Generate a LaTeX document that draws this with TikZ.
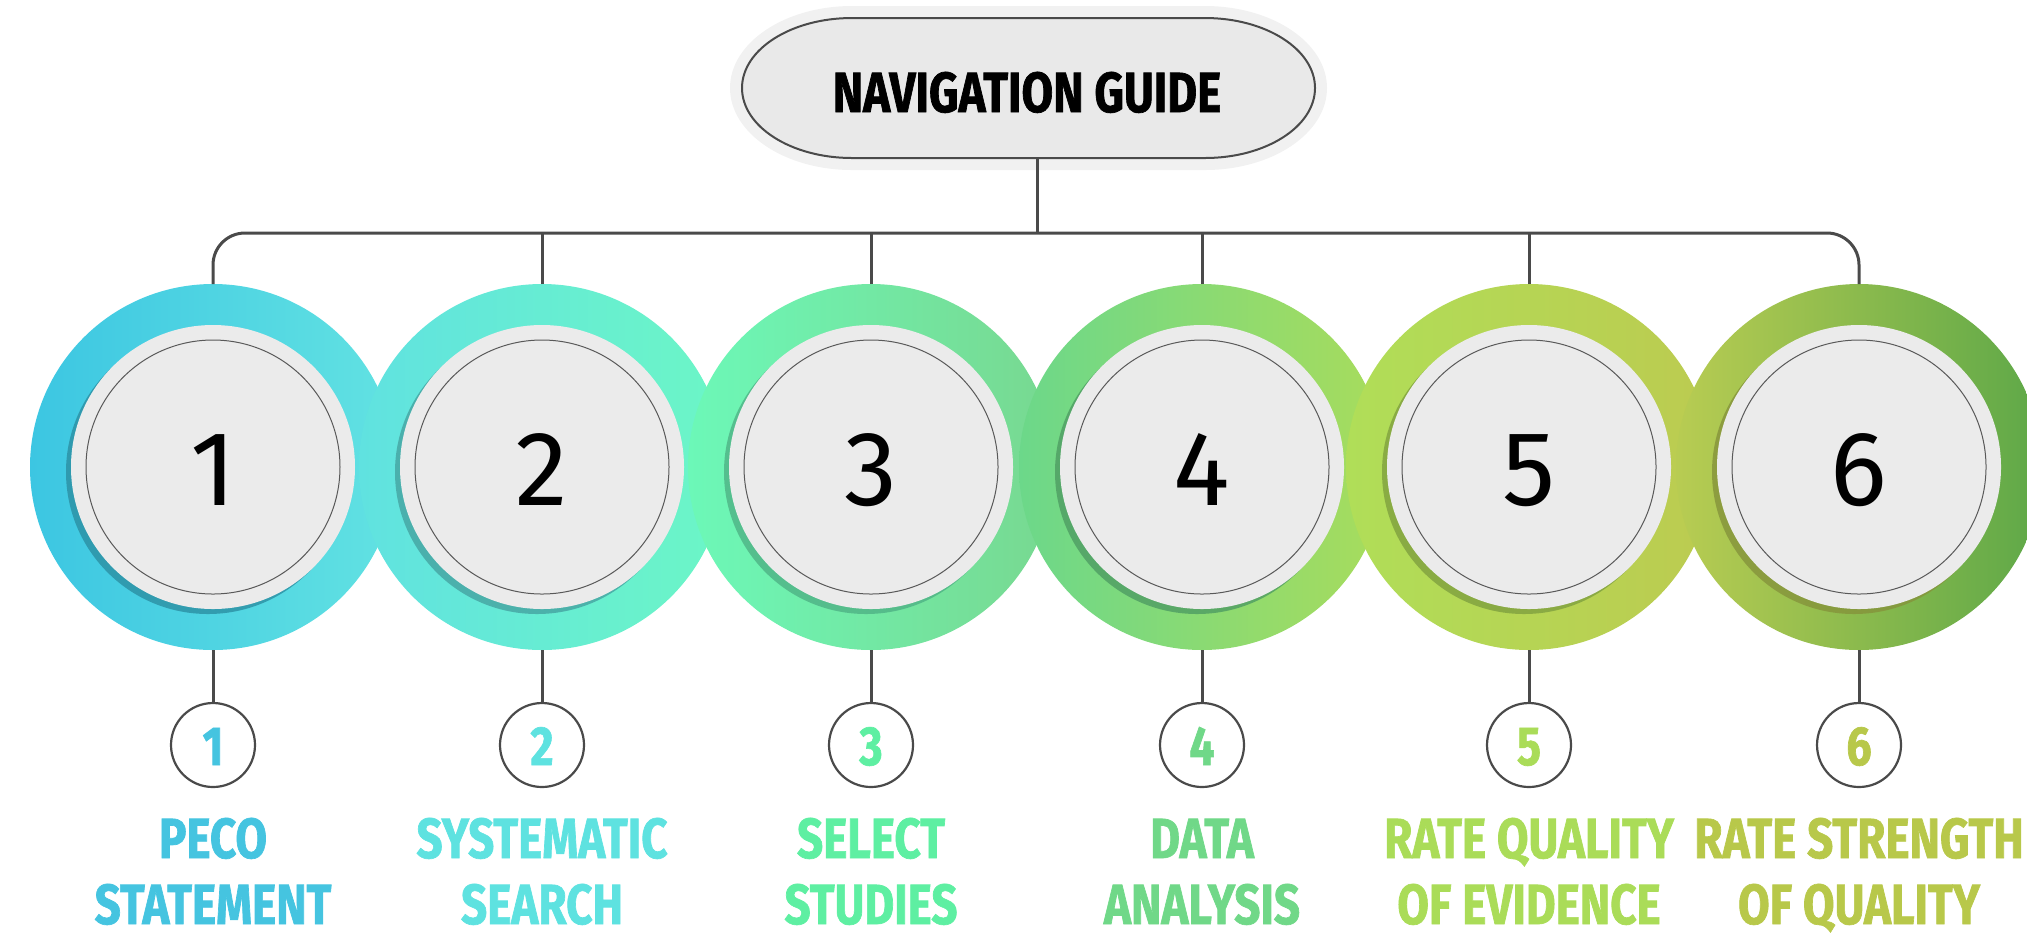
\documentclass[tikz,border=0pt]{standalone}
\usepackage{fontspec}
\setmainfont{Fira Sans}
\newfontfamily\numfont{Fira Sans}
\newfontfamily\condfont[FakeStretch=0.81,FakeBold=1.2]{Fira Sans}
\definecolor{linegray}{HTML}{4A4A4A}
\definecolor{discgray}{HTML}{EBEBEB}
\definecolor{pillgray}{HTML}{E9E9E9}
\definecolor{halogray}{HTML}{F1F1F1}
\definecolor{ra1}{HTML}{3CC6E2}\definecolor{rb1}{HTML}{62E2E2}
\definecolor{ra2}{HTML}{60E2E0}\definecolor{rb2}{HTML}{6CF6C6}
\definecolor{ra3}{HTML}{6CF8B8}\definecolor{rb3}{HTML}{78D890}
\definecolor{ra4}{HTML}{6CD88A}\definecolor{rb4}{HTML}{A8DC5C}
\definecolor{ra5}{HTML}{B0DE58}\definecolor{rb5}{HTML}{BCCB50}
\definecolor{ra6}{HTML}{B8CC52}\definecolor{rb6}{HTML}{5EA848}
\definecolor{t1}{HTML}{45C4E0}
\definecolor{t2}{HTML}{5EE2E0}
\definecolor{t3}{HTML}{5EEFA2}
\definecolor{t4}{HTML}{70D888}
\definecolor{t5}{HTML}{AADC58}
\definecolor{t6}{HTML}{B8C84A}
\tikzset{
  ringbox/.style={circle, minimum size=183pt, inner sep=0pt, outer sep=0pt},
  smallbox/.style={circle, draw=linegray, line width=1.1pt, fill=white, minimum size=42pt, inner sep=0pt, outer sep=0pt},
  bignum/.style={anchor=base, inner sep=0pt, font=\numfont\fontsize{53}{60}\selectfont, text=black},
  smallnum/.style={anchor=base, inner sep=0pt, font=\condfont\bfseries\fontsize{27.5}{30}\selectfont},
  labeltext/.style={anchor=base, inner sep=0pt, font=\condfont\bfseries\fontsize{28.3}{32}\selectfont},
  conn/.style={draw=linegray, line width=1.5pt},
}
\begin{document}
\begin{tikzpicture}[x=0.5pt, y=-0.5pt]
\useasboundingbox (0,0) rectangle (2027,934);
% title pill
\fill[halogray] (852,6) -- (1205,6) arc[start angle=90, end angle=-90, x radius=61pt, y radius=41pt] -- (852,170) arc[start angle=270, end angle=90, x radius=61pt, y radius=41pt] -- cycle;
\fill[pillgray, draw=linegray, line width=1pt] (852,18) -- (1205,18) arc[start angle=90, end angle=-90, x radius=55pt, y radius=35pt] -- (852,158) arc[start angle=270, end angle=90, x radius=55pt, y radius=35pt] -- cycle;
\node[minimum width=286.5pt, minimum height=70pt, inner sep=0pt, outer sep=0pt] (pill) at (1028.5,88) {};
\node[anchor=base, inner sep=0pt, font=\condfont\bfseries\fontsize{28.3}{32}\selectfont] (title) at (1027,112) {NAVIGATION GUIDE};
\coordinate (bus) at (1037,233);
% rings
\foreach \i/\x in {1/213,2/542,3/871,4/1202,5/1529,6/1859}{
  \node[ringbox, left color=ra\i, right color=rb\i] (r\i) at (\x,467) {};
  \fill[ra\i!72!black, opacity=0.8] (\x-5,472) circle (71pt);
  \fill[discgray] (\x,467) circle (71pt);
  \draw[gray!70!black, line width=0.5pt] (\x,467) circle (63.5pt);
  \node[bignum] (b\i) at (\x,505) {\i};
  \node[smallbox] (s\i) at (\x,745) {};
  \node[smallnum, text=t\i] (sn\i) at (\x,765) {\i};
  \draw[conn] (r\i.south) -- (s\i.north);
}
% connectors from title
\draw[conn] (pill.south -| bus) -- (bus);
\draw[conn, rounded corners=16pt] (r1.north) -- (r1.north |- bus) -- (r6.north |- bus) -- (r6.north);
\foreach \i in {2,3,4,5}{
  \draw[conn] (r\i.north) -- (r\i.north |- bus);
}
% labels
\node[labeltext, text=t1] (l1a) at (213,858) {PECO};
\node[labeltext, text=t1] (l1b) at (213,924) {STATEMENT};
\node[labeltext, text=t2] (l2a) at (542,858) {SYSTEMATIC};
\node[labeltext, text=t2] (l2b) at (542,924) {SEARCH};
\node[labeltext, text=t3] (l3a) at (871,858) {SELECT};
\node[labeltext, text=t3] (l3b) at (871,924) {STUDIES};
\node[labeltext, text=t4] (l4a) at (1202,858) {DATA};
\node[labeltext, text=t4] (l4b) at (1202,924) {ANALYSIS};
\node[labeltext, text=t5] (l5a) at (1529,858) {RATE QUALITY};
\node[labeltext, text=t5] (l5b) at (1529,924) {OF EVIDENCE};
\node[labeltext, text=t6] (l6a) at (1859,858) {RATE STRENGTH};
\node[labeltext, text=t6] (l6b) at (1859,924) {OF QUALITY};
\end{tikzpicture}
\end{document}
